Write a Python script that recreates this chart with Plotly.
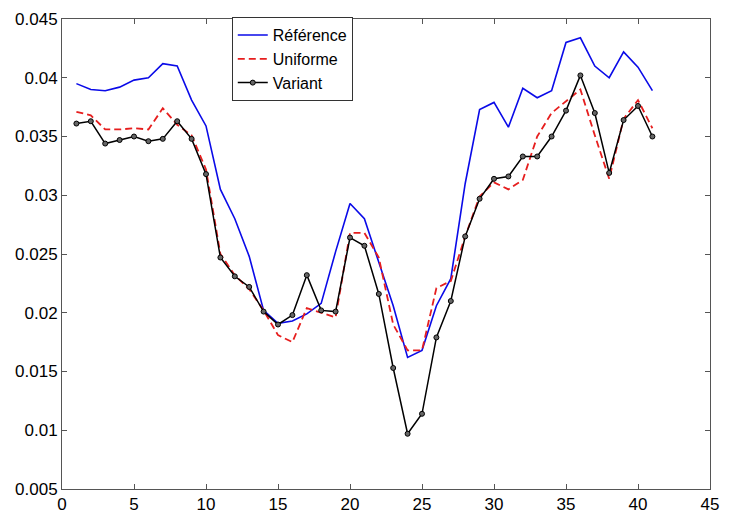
import plotly.graph_objects as go

# Abscissa: sample index 1..41
idx = list(range(1, 42))

reference = [0.0395, 0.0390, 0.0389, 0.0392, 0.0398, 0.0400, 0.0412, 0.0410, 0.0381, 0.0359,
             0.0305, 0.0280, 0.0248, 0.0202, 0.0191, 0.0193, 0.0199, 0.0208, 0.0252, 0.0293,
             0.0280, 0.0243, 0.0206, 0.0162, 0.0168, 0.0206, 0.0229, 0.0310, 0.0373, 0.0379,
             0.0358, 0.0391, 0.0383, 0.0389, 0.0430, 0.0434, 0.0410, 0.0400, 0.0422, 0.0409,
             0.0389]

uniforme = [0.0371, 0.0368, 0.0356, 0.0356, 0.0357, 0.0356, 0.0374, 0.0360, 0.0351, 0.0322,
            0.0250, 0.0232, 0.0220, 0.0202, 0.0181, 0.0175, 0.0204, 0.0200, 0.0196, 0.0268,
            0.0268, 0.0247, 0.0190, 0.0168, 0.0168, 0.0221, 0.0227, 0.0265, 0.0299, 0.0311,
            0.0305, 0.0313, 0.0350, 0.0370, 0.0380, 0.0390, 0.0351, 0.0314, 0.0365, 0.0381,
            0.0357]

variant = [0.0361, 0.0363, 0.0344, 0.0347, 0.0350, 0.0346, 0.0348, 0.0363, 0.0348, 0.0318,
           0.0247, 0.0231, 0.0222, 0.0201, 0.0190, 0.0198, 0.0232, 0.0202, 0.0201, 0.0264,
           0.0257, 0.0216, 0.0153, 0.0097, 0.0114, 0.0179, 0.0210, 0.0265, 0.0297, 0.0314,
           0.0316, 0.0333, 0.0333, 0.0350, 0.0372, 0.0402, 0.0370, 0.0319, 0.0364, 0.0376,
           0.0350]

x_ticks = [0, 5, 10, 15, 20, 25, 30, 35, 40, 45]
y_ticks = [0.005, 0.01, 0.015, 0.02, 0.025, 0.03, 0.035, 0.04, 0.045]
y_tick_text = ["0.005", "0.01", "0.015", "0.02", "0.025", "0.03", "0.035", "0.04", "0.045"]

FONT = "Liberation Sans, Arial, sans-serif"

fig = go.Figure()
fig.add_trace(go.Scatter(x=idx, y=reference, mode="lines", name="Référence",
                         line=dict(color="#0a0ae8", width=1.6)))
fig.add_trace(go.Scatter(x=idx, y=uniforme, mode="lines", name="Uniforme",
                         line=dict(color="#e61e1e", width=1.8, dash="7px,4px")))
fig.add_trace(go.Scatter(x=idx, y=variant, mode="lines+markers", name="Variant",
                         line=dict(color="black", width=1.5),
                         marker=dict(symbol="circle", size=5, color="#666666",
                                     line=dict(color="black", width=1))))

axis_common = dict(showline=True, linecolor="#555555", linewidth=1, mirror="ticks",
                   ticks="inside", ticklen=5, tickcolor="#555555", showgrid=False,
                   zeroline=False, tickfont=dict(family=FONT, size=17, color="black"))

fig.update_xaxes(range=[0, 45], tickvals=x_ticks, ticktext=[str(t) for t in x_ticks],
                 **axis_common)
fig.update_yaxes(range=[0.005, 0.045], tickvals=y_ticks, ticktext=y_tick_text,
                 **axis_common)

fig.update_layout(
    width=729, height=524,
    margin=dict(l=62, r=10, t=13, b=24),
    paper_bgcolor="white", plot_bgcolor="white",
    font=dict(family=FONT, size=17, color="black"),
    showlegend=True,
    legend=dict(x=0.262, y=1.004, xanchor="left", yanchor="top",
                bgcolor="white", bordercolor="#333333", borderwidth=1,
                font=dict(family=FONT, size=16, color="black"),
                itemwidth=30, tracegroupgap=0),
)

fig.write_html("out.html")
